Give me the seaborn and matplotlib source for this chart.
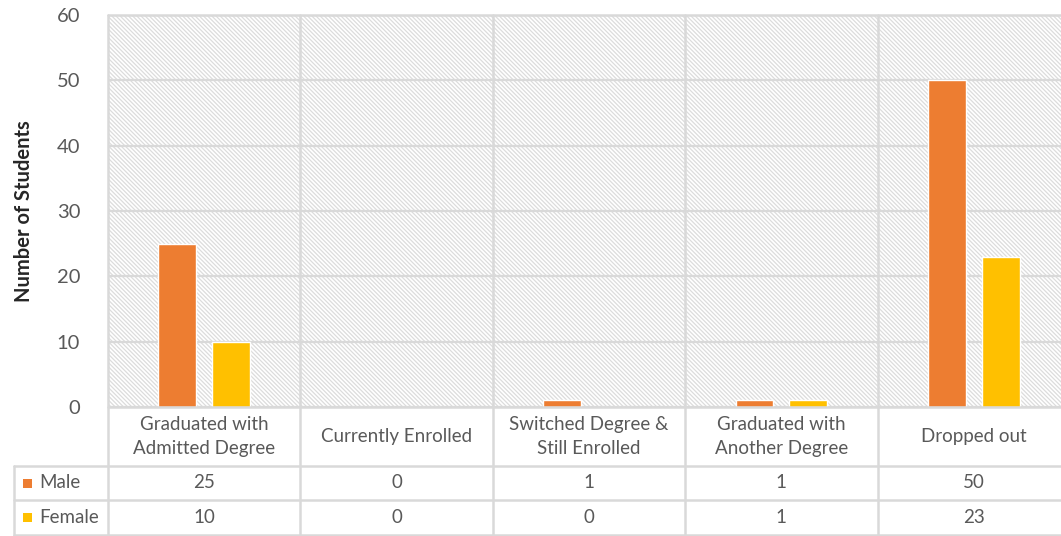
import numpy as np
import pandas as pd
import matplotlib
matplotlib.use("Agg")
import matplotlib.pyplot as plt
import matplotlib.transforms as mtransforms
from matplotlib.patches import Rectangle
import seaborn as sns

# data
categories = ["Graduated with\nAdmitted Degree", "Currently Enrolled",
              "Switched Degree &\nStill Enrolled", "Graduated with\nAnother Degree",
              "Dropped out"]
male = [25, 0, 1, 1, 50]
female = [10, 0, 0, 1, 23]
series = ["Male", "Female"]
colors = ["#ED7D31", "#FFC000"]

df = pd.DataFrame({
    "Outcome": categories * 2,
    "Count": male + female,
    "Gender": ["Male"] * len(male) + ["Female"] * len(female),
})

sns.set_style("white")
plt.rcParams["font.family"] = ["Lato", "DejaVu Sans"]
plt.rcParams["hatch.linewidth"] = 0.9

W, H = 1061, 536
fig = plt.figure(figsize=(W / 100, H / 100), dpi=100)

def fy(py):
    # pixel row -> figure fraction
    return 1 - py / H

# plot area runs a little past the right edge of the image, as in the original
ax_left, ax_right, ax_top, ax_bot = 108, 1070, 15, 407
ax = fig.add_axes([ax_left / W, fy(ax_bot), (ax_right - ax_left) / W, (ax_bot - ax_top) / H])

grid_c = "#d9d9d9"
text_c = "#595959"

# hatched plot-area background
bg = Rectangle((0, 0), 1, 1, transform=ax.transAxes, facecolor="white",
               edgecolor="#dcdcdc", hatch="\\" * 8, linewidth=0, zorder=0)
ax.add_patch(bg)

sns.barplot(data=df, x="Outcome", y="Count", hue="Gender", hue_order=series,
            palette=colors, width=0.56, gap=0.3, ax=ax, legend=False,
            saturation=1, zorder=3)

ax.set_xlim(-0.5, len(categories) - 0.5)
ax.set_ylim(0, 60)
ax.set_yticks(range(0, 61, 10))
ax.yaxis.grid(True, color=grid_c, linewidth=1.6, zorder=1)
ax.set_axisbelow(True)
for s in ax.spines.values():
    s.set_visible(False)
ax.tick_params(axis="y", length=0, pad=20, labelsize=14.5, labelcolor=text_c)
ax.set_xticks([])
ax.set_xlabel("")
ax.set_ylabel("Number of Students", fontsize=14.5, fontweight="bold",
              color="#262626", labelpad=16)

# data table below the axis
bt = mtransforms.blended_transform_factory(ax.transData, fig.transFigure)
row_cat, row_m, row_f, row_end = 407, 466, 500, 535
left_col = 14
x_left_col = -0.5 - (ax_left - left_col) / ((ax_right - ax_left) / len(categories))

lk = dict(color=grid_c, linewidth=1.8, clip_on=False, transform=bt, zorder=5)
# vertical boundaries, through plot and table
for b in np.arange(-0.5, len(categories), 1.0):
    ax.plot([b, b], [fy(ax_top), fy(row_end)], **lk)
ax.plot([x_left_col, x_left_col], [fy(row_m), fy(row_end)], **lk)
# horizontal rules
ax.plot([-0.5, len(categories) - 0.5], [fy(ax_bot), fy(ax_bot)], **lk)
ax.plot([-0.5, len(categories) - 0.5], [fy(ax_top), fy(ax_top)], **lk)
for r in [row_m, row_f, row_end]:
    ax.plot([x_left_col, len(categories) - 0.5], [fy(r), fy(r)], **lk)

tk = dict(transform=bt, ha="center", va="center", color=text_c, fontsize=13.5, clip_on=False)
for i, cat in enumerate(categories):
    ax.text(i, fy((row_cat + row_m) / 2), cat, linespacing=1.45, **tk)
    ax.text(i, fy((row_m + row_f) / 2), str(male[i]), **tk)
    ax.text(i, fy((row_f + row_end) / 2), str(female[i]), **tk)

for name, col, (r0, r1) in zip(series, colors, [(row_m, row_f), (row_f, row_end)]):
    yc = fy((r0 + r1) / 2)
    fig.patches.append(Rectangle((23 / W, yc - 4.5 / H), 9 / W, 9 / H,
                                 transform=fig.transFigure, facecolor=col,
                                 edgecolor="none", figure=fig))
    fig.text(39 / W, yc, name, ha="left", va="center", color=text_c, fontsize=13.5)

fig.savefig("out.png", dpi=100, facecolor="white")
